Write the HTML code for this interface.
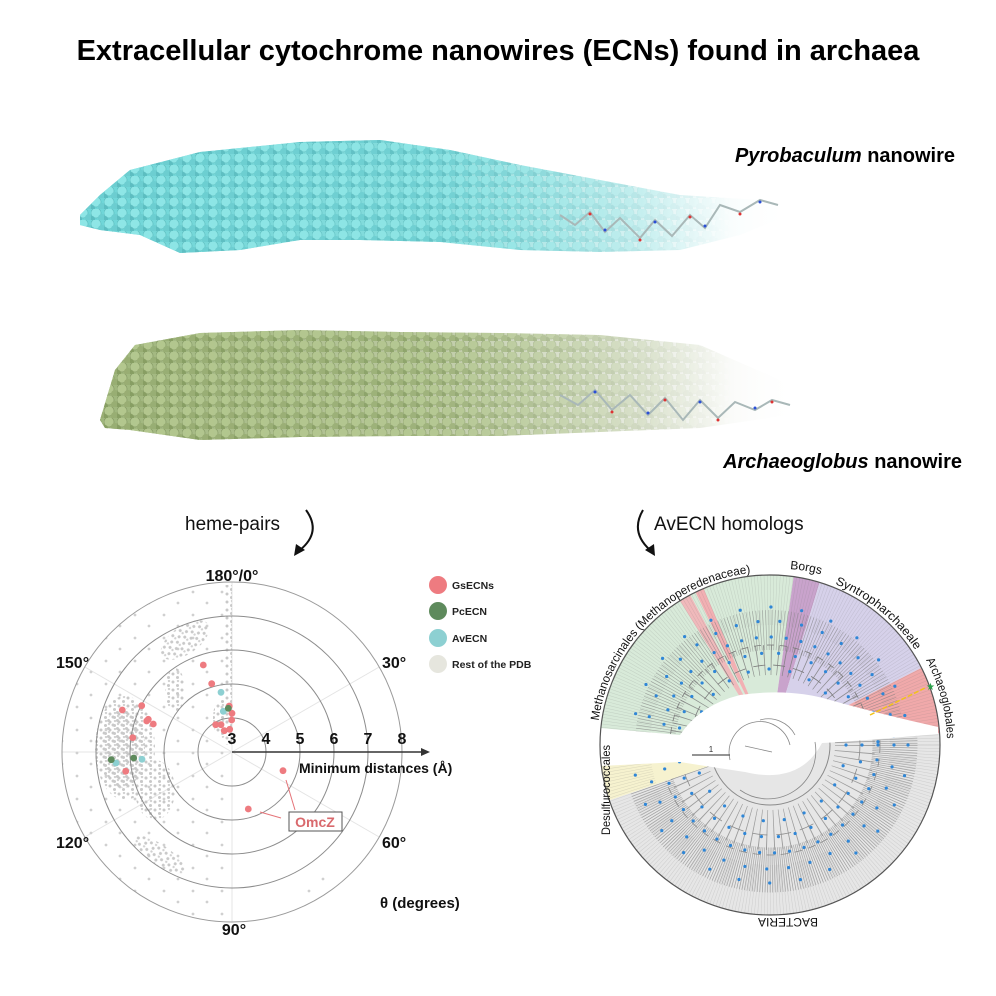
<!DOCTYPE html>
<html><head><meta charset="utf-8"><style>
html,body{margin:0;padding:0;background:#fff;}
svg{display:block;font-family:"Liberation Sans",Arial,sans-serif;}
</style></head><body>
<svg width="996" height="996" viewBox="0 0 996 996" xmlns="http://www.w3.org/2000/svg">
<defs>
<linearGradient id="gc" x1="0" x2="1" y1="0" y2="0">
<stop offset="0" stop-color="#6fd6d8"/><stop offset="0.5" stop-color="#86dcdc"/><stop offset="0.78" stop-color="#c6ecec" stop-opacity="0.75"/><stop offset="1" stop-color="#ffffff" stop-opacity="0"/></linearGradient>
<linearGradient id="gg" x1="0" x2="1" y1="0" y2="0">
<stop offset="0" stop-color="#9fb67c"/><stop offset="0.45" stop-color="#b9c79e"/><stop offset="0.78" stop-color="#dfe4d6" stop-opacity="0.75"/><stop offset="1" stop-color="#ffffff" stop-opacity="0"/></linearGradient>
<linearGradient id="gm" x1="0" x2="1" y1="0" y2="0"><stop offset="0" stop-color="#fff"/><stop offset="0.5" stop-color="#fff" stop-opacity="0.8"/><stop offset="0.9" stop-color="#fff" stop-opacity="0"/></linearGradient>
<mask id="fade" maskUnits="userSpaceOnUse" x="0" y="0" width="996" height="500"><rect x="75" y="100" width="730" height="360" fill="url(#gm)"/></mask>
<pattern id="pc" width="13" height="11" patternUnits="userSpaceOnUse">
<circle cx="5" cy="4" r="5" fill="#8fe6e6" stroke="#3e9fa2" stroke-width="0.7" stroke-opacity="0.5"/><circle cx="11" cy="9" r="4" fill="#6ccdd0"/><circle cx="1" cy="10" r="3" fill="#5cbcc0"/></pattern>
<pattern id="pg" width="13" height="11" patternUnits="userSpaceOnUse">
<circle cx="5" cy="4" r="5" fill="#b3c78f" stroke="#5f7442" stroke-width="0.7" stroke-opacity="0.5"/><circle cx="11" cy="9" r="4" fill="#98ad73"/><circle cx="1" cy="10" r="3" fill="#869d62"/></pattern>
<clipPath id="cw1"><path d="M80,215 L100,195 130,170 200,152 300,142 380,140 450,150 520,165 600,180 680,195 760,200 790,205 790,215 740,235 680,250 600,252 520,250 440,242 360,240 300,240 240,250 180,253 140,235 100,230 80,225Z"/></clipPath>
<clipPath id="cw2"><path d="M100,420 L115,370 135,345 200,333 300,330 400,332 500,333 600,335 700,345 780,380 800,400 790,415 700,428 600,432 500,436 400,436 300,437 200,440 130,430 105,428Z"/></clipPath>
<pattern id="pd" width="9" height="8" patternUnits="userSpaceOnUse"><circle cx="2" cy="2" r="1.5" fill="#c9c9c9"/><circle cx="6.5" cy="5.5" r="1.5" fill="#c9c9c9"/><circle cx="7" cy="1" r="1.2" fill="#d2d2d2"/></pattern>
<pattern id="ps" width="29" height="23" patternUnits="userSpaceOnUse"><circle cx="4" cy="5" r="1.4" fill="#d0d0d0"/><circle cx="19" cy="17" r="1.4" fill="#d0d0d0"/></pattern>
<clipPath id="cpol"><circle cx="232" cy="752" r="170"/></clipPath>
<clipPath id="cbac"><path d="M770,745 L939.4,730.2 A170 170 0 0 1 609.3,800.3Z"/></clipPath>
<clipPath id="carc"><path d="M770,745 L600.4,733.1 A170 170 0 0 1 939.6,733.1Z"/></clipPath>
<path id="pMeth" d="M 598.7 720.9 A 173 173 0 0 1 751.8 572.9"/>
<path id="pSyn" d="M 835 584 A 174 174 0 0 1 914 648"/>
<path id="pBorg" d="M 790 569 A 177 177 0 0 1 830 577"/>
<path id="pArch" d="M 926 660 A 177 177 0 0 1 947 740"/>
</defs>
<text x="498" y="60" text-anchor="middle" font-size="29" font-weight="bold" fill="#000">Extracellular cytochrome nanowires (ECNs) found in archaea</text>

<!-- wires -->
<path d="M80,215 L100,195 130,170 200,152 300,142 380,140 450,150 520,165 600,180 680,195 760,200 790,205 790,215 740,235 680,250 600,252 520,250 440,242 360,240 300,240 240,250 180,253 140,235 100,230 80,225Z" fill="url(#gc)"/>
<g clip-path="url(#cw1)" mask="url(#fade)"><rect x="70" y="130" width="740" height="130" fill="url(#pc)"/></g>
<path d="M100,420 L115,370 135,345 200,333 300,330 400,332 500,333 600,335 700,345 780,380 800,400 790,415 700,428 600,432 500,436 400,436 300,437 200,440 130,430 105,428Z" fill="url(#gg)"/>
<g clip-path="url(#cw2)" mask="url(#fade)"><rect x="90" y="320" width="720" height="130" fill="url(#pg)"/></g>
<g fill="none" stroke="#a9b8b8" stroke-width="2">
<polyline points="560,215 575,225 590,212 605,232 620,218 640,238 655,220 672,236 690,215 705,228 720,205 740,212 760,200 778,205"/>
<polyline points="560,395 578,405 595,390 612,410 630,395 648,415 665,398 683,420 700,400 718,418 735,402 755,410 772,400 790,405"/>
</g>
<g fill="#d33"><circle cx="590" cy="214" r="1.5"/><circle cx="640" cy="240" r="1.5"/><circle cx="690" cy="217" r="1.5"/><circle cx="740" cy="214" r="1.5"/><circle cx="612" cy="412" r="1.5"/><circle cx="665" cy="400" r="1.5"/><circle cx="718" cy="420" r="1.5"/><circle cx="772" cy="402" r="1.5"/></g>
<g fill="#2a4fd6"><circle cx="605" cy="230" r="1.5"/><circle cx="655" cy="222" r="1.5"/><circle cx="705" cy="226" r="1.5"/><circle cx="760" cy="202" r="1.5"/><circle cx="595" cy="392" r="1.5"/><circle cx="648" cy="413" r="1.5"/><circle cx="700" cy="402" r="1.5"/><circle cx="755" cy="408" r="1.5"/></g>
<text x="955" y="162" text-anchor="end" font-size="20" font-weight="bold"><tspan font-style="italic">Pyrobaculum</tspan> nanowire</text>
<text x="962" y="468" text-anchor="end" font-size="20" font-weight="bold"><tspan font-style="italic">Archaeoglobus</tspan> nanowire</text>

<text x="185" y="530" font-size="19" fill="#111">heme-pairs</text>
<path d="M306,510 Q322,532 300,550" fill="none" stroke="#111" stroke-width="2"/>
<path d="M294,556 L296,544 L305,550Z" fill="#111"/>
<text x="654" y="530" font-size="19" fill="#111">AvECN homologs</text>
<path d="M643,510 Q630,532 650,550" fill="none" stroke="#111" stroke-width="2"/>
<path d="M655,556 L645,550 L654,544Z" fill="#111"/>

<!-- polar plot -->
<g fill="none" stroke="#e4e4e4" stroke-width="1">
<line x1="232" y1="752" x2="232" y2="582"/><line x1="232" y1="752" x2="232" y2="922"/>
<line x1="232" y1="752" x2="84.8" y2="667"/><line x1="232" y1="752" x2="379.2" y2="667"/>
<line x1="232" y1="752" x2="84.8" y2="837"/><line x1="232" y1="752" x2="379.2" y2="837"/>
<line x1="232" y1="752" x2="62" y2="752"/>
</g>
<g clip-path="url(#cpol)">
<path d="M62,752 A170 170 0 0 1 232 582 L232 922 A170 170 0 0 1 62 752Z" fill="url(#ps)"/>
<path d="M300,880 L390,860 L380,900 L300,920Z" fill="url(#ps)"/>
<ellipse cx="125" cy="748" rx="30" ry="52" fill="url(#pd)"/>
<ellipse cx="120" cy="745" rx="22" ry="40" fill="url(#pd)" transform="translate(3,3)"/>
<ellipse cx="155" cy="790" rx="20" ry="30" fill="url(#pd)"/>
<ellipse cx="185" cy="640" rx="28" ry="14" fill="url(#pd)" transform="rotate(-35 185 640)"/>
<ellipse cx="175" cy="690" rx="10" ry="22" fill="url(#pd)"/>
<rect x="225" y="585" width="7" height="160" fill="url(#pd)"/>
<ellipse cx="222" cy="718" rx="9" ry="20" fill="url(#pd)"/>
<ellipse cx="160" cy="855" rx="30" ry="10" fill="url(#pd)" transform="rotate(35 160 855)"/>
</g>
<g fill="none" stroke="#8c8c8c" stroke-width="1">
<circle cx="232" cy="752" r="34"/><circle cx="232" cy="752" r="68"/><circle cx="232" cy="752" r="102"/><circle cx="232" cy="752" r="136"/><circle cx="232" cy="752" r="170" stroke="#9a9a9a"/>
</g>
<g fill="#ee7b80">
<circle cx="203.3" cy="665" r="3.4"/><circle cx="211.7" cy="683.7" r="3.4"/><circle cx="141.7" cy="705.7" r="3.4"/><circle cx="122.3" cy="710" r="3.4"/><circle cx="148.3" cy="719.3" r="3.4"/><circle cx="146.7" cy="721" r="3.4"/><circle cx="153.3" cy="724" r="3.4"/><circle cx="132.7" cy="737.7" r="3.4"/><circle cx="125.7" cy="771.3" r="3.4"/><circle cx="229.3" cy="706" r="3.4"/><circle cx="232" cy="713.3" r="3.4"/><circle cx="231.7" cy="720" r="3.4"/><circle cx="215.7" cy="724.7" r="3.4"/><circle cx="221" cy="724.7" r="3.4"/><circle cx="224.3" cy="730.7" r="3.4"/><circle cx="229.7" cy="729.3" r="3.4"/><circle cx="283" cy="770.7" r="3.4"/><circle cx="248.3" cy="809" r="3.4"/></g>
<g fill="#8dd0d2"><circle cx="221" cy="692.3" r="3.4"/><circle cx="223.3" cy="711.3" r="3.4"/><circle cx="116" cy="763" r="3.4"/><circle cx="142" cy="759.3" r="3.4"/></g>
<g fill="#5e8a5c"><circle cx="228.3" cy="708.3" r="3.4"/><circle cx="111.3" cy="759.7" r="3.4"/><circle cx="133.7" cy="758" r="3.4"/></g>
<line x1="232" y1="752" x2="424" y2="752" stroke="#333" stroke-width="1.5"/>
<path d="M430,752 L421,748 L421,756Z" fill="#333"/>
<g font-size="16" font-weight="bold" fill="#111" text-anchor="middle">
<text x="232" y="744">3</text><text x="266" y="744">4</text><text x="300" y="744">5</text><text x="334" y="744">6</text><text x="368" y="744">7</text><text x="402" y="744">8</text>
</g>
<text x="299" y="773" font-size="14" font-weight="bold" fill="#111">Minimum distances (Å)</text>
<g font-size="16" font-weight="bold" fill="#111">
<text x="232" y="581" text-anchor="middle">180°/0°</text>
<text x="56" y="668">150°</text><text x="382" y="668">30°</text>
<text x="56" y="848">120°</text><text x="382" y="848">60°</text>
<text x="234" y="935" text-anchor="middle">90°</text>
<text x="380" y="908" font-size="15">θ (degrees)</text>
</g>
<rect x="289" y="812" width="53" height="19" fill="#fff" stroke="#555" stroke-width="1"/>
<text x="315" y="827" text-anchor="middle" font-size="14" font-weight="bold" fill="#d9696d">OmcZ</text>
<g stroke="#e57378" stroke-width="1"><line x1="295" y1="810" x2="286" y2="780"/><line x1="281" y1="818" x2="260" y2="812"/></g>
<!-- legend -->
<circle cx="438" cy="585" r="9" fill="#ee7b80"/><circle cx="438" cy="611" r="9" fill="#5e8a5c"/><circle cx="438" cy="638" r="9" fill="#8dd0d2"/><circle cx="438" cy="664" r="9" fill="#e6e6de"/>
<g font-size="10.5" font-weight="bold" fill="#222"><text x="452" y="589">GsECNs</text><text x="452" y="615">PcECN</text><text x="452" y="642">AvECN</text><text x="452" y="668">Rest of the PDB</text></g>

<!-- tree -->
<path d="M770,745 L939.4,730.2 A170 170 0 0 1 609.3,800.3Z" fill="#e6e6e6"/>
<path d="M770,745 L609.3,800.3 A170 170 0 0 1 600.9,762.8Z" fill="#f6f2cf"/>
<path d="M770,745 L600.4,733.1 A170 170 0 0 1 793.7,576.6Z" fill="#d8ead9"/>
<path d="M770,745 L679.9,600.8 A170 170 0 0 1 690.2,594.9Z" fill="#f0b9bb"/>
<path d="M770,745 L695.5,592.2 A170 170 0 0 1 703.6,588.5Z" fill="#f2b0b3"/>
<path d="M770,745 L793.7,576.6 A170 170 0 0 1 819.7,582.4Z" fill="#c9a3cc"/>
<path d="M770,745 L819.7,582.4 A170 170 0 0 1 921.5,667.8Z" fill="#d6d1ea"/>
<path d="M770,745 L921.5,667.8 A170 170 0 0 1 939.6,733.1Z" fill="#f0a9aa"/>
<circle cx="770" cy="745" r="145" fill="none" stroke="#777" stroke-opacity="0.22" stroke-width="50" stroke-dasharray="0.5 2.3"/>
<g clip-path="url(#cbac)" fill="none" stroke="#8a8a8a">
<circle cx="770" cy="745" r="125" stroke-width="45" stroke-dasharray="0.7 1.5" stroke-opacity="0.7"/>
<circle cx="770" cy="745" r="85" stroke-width="40" stroke-dasharray="0.8 6" stroke-opacity="0.8"/>
<circle cx="770" cy="745" r="60" stroke-width="1"/>
<circle cx="770" cy="745" r="90" stroke-width="0.8" stroke-dasharray="15 9"/>
<circle cx="770" cy="745" r="110" stroke-width="0.8" stroke-dasharray="8 6"/>
</g>
<g clip-path="url(#carc)" fill="none" stroke="#7a7a7a">
<circle cx="770" cy="745" r="115" stroke-width="40" stroke-dasharray="0.6 2.2" stroke-opacity="0.6"/>
<circle cx="770" cy="745" r="85" stroke-width="30" stroke-dasharray="0.8 6" stroke-opacity="0.8"/>
<circle cx="770" cy="745" r="80" stroke-width="0.8" stroke-dasharray="12 8"/>
<circle cx="770" cy="745" r="100" stroke-width="0.8" stroke-dasharray="7 6"/>
</g>
<g fill="none" stroke="#2f86d6" stroke-linecap="round" stroke-width="3.2">
<circle cx="770" cy="745" r="76" stroke-dasharray="0 21"/>
<circle cx="770" cy="745" r="92" stroke-dasharray="0 17"/>
<circle cx="770" cy="745" r="108" stroke-dasharray="0 15"/>
<circle cx="770" cy="745" r="124" stroke-dasharray="0 22"/>
<circle cx="770" cy="745" r="138" stroke-dasharray="0 31"/>
</g>
<path d="M600,728 L680,735 Q700,705 740,695 Q790,688 830,700 Q880,714 938,727 L938,734 Q870,740 822,743 Q800,785 745,772 Q705,766 680,762 L600,766Z" fill="#fff"/>
<path d="M790,745 A30 30 0 0 0 730 760 M815,742 A48 48 0 0 1 740 790 M745,746 L772,752 M760,720 A30 30 0 0 1 795 735" fill="none" stroke="#888" stroke-width="0.8"/>
<circle cx="770" cy="745" r="170" fill="none" stroke="#555" stroke-width="1.2"/>
<line x1="692" y1="755" x2="730" y2="755" stroke="#555" stroke-width="1.2"/>
<text x="711" y="752" font-size="8" text-anchor="middle" fill="#333">1</text>
<line x1="870" y1="715" x2="925" y2="688" stroke="#f2c21a" stroke-width="1.5" stroke-dasharray="5,2"/>
<text x="926" y="690" font-size="10" fill="#2aa14a">★</text>
<g font-size="12" fill="#111">
<text><textPath href="#pMeth" textLength="228" lengthAdjust="spacingAndGlyphs">Methanosarcinales (Methanoperedenaceae)</textPath></text>
<text><textPath href="#pSyn" textLength="112" lengthAdjust="spacingAndGlyphs">Syntropharchaeales</textPath></text>
<text><textPath href="#pBorg">Borgs</textPath></text>
<text><textPath href="#pArch" textLength="82" lengthAdjust="spacingAndGlyphs">Archaeoglobales</textPath></text>
<text x="610" y="835" transform="rotate(-90 610 835)" textLength="90" lengthAdjust="spacingAndGlyphs">Desulfurococcales</text>
<text x="0" y="0" transform="translate(788,918) rotate(180)" text-anchor="middle">BACTERIA</text>
</g>
</svg>
</body></html>
